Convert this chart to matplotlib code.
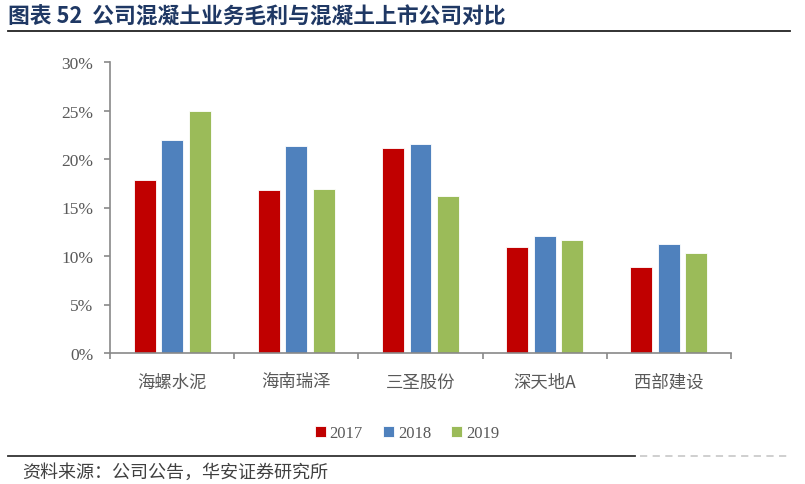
import matplotlib
matplotlib.use("Agg")
import matplotlib.pyplot as plt
import numpy as np
from matplotlib.ticker import FixedLocator, FuncFormatter

categories = ["海螺水泥", "海南瑞泽", "三圣股份", "深天地A", "西部建设"]
years = ["2017", "2018", "2019"]
v2017 = [17.8, 16.8, 21.1, 10.9, 8.9]
v2018 = [22.0, 21.3, 21.5, 12.1, 11.2]
v2019 = [24.9, 16.9, 16.2, 11.7, 10.3]
yticks = [0, 5, 10, 15, 20, 25, 30]

colors = ["#C00000", "#4F81BD", "#9BBB59"]
cjk = ["Noto Sans CJK SC", "DejaVu Sans"]
serif = ["Liberation Serif", "DejaVu Serif"]
gray = "#595959"

fig = plt.figure(figsize=(8.05, 4.85), dpi=100)
ax = fig.add_axes([110/805, 1-354/485, 621/805, 291/485])

x = np.arange(len(categories))
w = 0.177
off = 0.221
series = [v2017, v2018, v2019]
for i, (vals, c, lab) in enumerate(zip(series, colors, years)):
    ax.bar(x + (i-1)*off, vals, width=w, color=c, edgecolor="white", linewidth=0.6, label=lab)

ax.set_xlim(-0.5, len(categories)-0.5)
ax.set_ylim(0, 30)
ax.set_yticks(yticks)
ax.yaxis.set_major_formatter(FuncFormatter(lambda v, p: f"{int(v)}%"))
for t in ax.get_yticklabels():
    t.set_fontfamily(serif)
    t.set_fontsize(12.5)
    t.set_color(gray)

ax.set_xticks(x)
ax.set_xticklabels(categories, fontfamily=cjk, fontsize=12.5, color=gray)
ax.xaxis.set_minor_locator(FixedLocator(np.arange(-0.5, len(categories), 1.0)))
ax.tick_params(axis="x", which="major", length=0, pad=14)
ax.tick_params(axis="x", which="minor", length=4, color="#898989", width=1.2, direction="out")
ax.tick_params(axis="y", length=4, color="#898989", width=1.2, direction="out", pad=8)

for s in ["top", "right"]:
    ax.spines[s].set_visible(False)
for s in ["left", "bottom"]:
    ax.spines[s].set_color("#898989")
    ax.spines[s].set_linewidth(1.2)

leg = fig.legend(loc="center", bbox_to_anchor=(407/805, 1-434/485), ncol=3, frameon=False,
                 prop={"family": serif, "size": 12}, handlelength=0.65, handleheight=0.65,
                 handletextpad=0.25, columnspacing=1.2)
for t in leg.get_texts():
    t.set_color(gray)

# title
fig.text(8/805, 1-17/485, "图表 52  公司混凝土业务毛利与混凝土上市公司对比", fontfamily=cjk,
         fontsize=15.7, fontweight="bold", color="#1F3864", va="center", ha="left")
fig.add_artist(plt.Line2D([8/805, 790/805], [1-32/485, 1-32/485], color="#222222", linewidth=1.3))

# footer
fig.add_artist(plt.Line2D([8/805, 635/805], [1-457/485, 1-457/485], color="#333333", linewidth=1.3))
fig.add_artist(plt.Line2D([640/805, 790/805], [1-457/485, 1-457/485], color="#cccccc", linewidth=1.3,
                          linestyle=(0, (4, 3))))
fig.text(22/805, 1-473/485, "资料来源：公司公告，华安证券研究所", fontfamily=cjk, fontsize=13,
         color="#404040", va="center", ha="left")

fig.savefig("out.png", dpi=100)
